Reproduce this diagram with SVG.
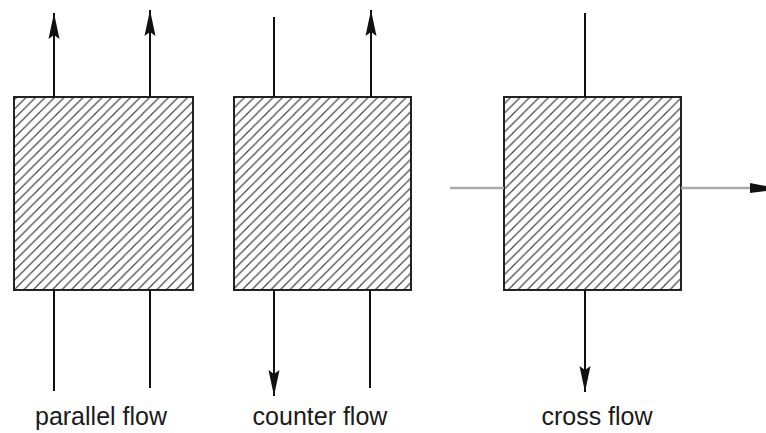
<svg xmlns="http://www.w3.org/2000/svg" width="766" height="433" viewBox="0 0 766 433">
<style>
.box{fill:url(#hatch);stroke:#222;stroke-width:2}
.flow{stroke:#111;stroke-width:2;fill:none}
.gray{stroke:#aaa;stroke-width:2.5;fill:none}
.lbl{font-family:"Liberation Sans",Arial,sans-serif;font-size:25px;fill:#1a1a1a;text-anchor:middle}
</style>
<defs>
<pattern id="hatch" patternUnits="userSpaceOnUse" width="9.5" height="9.5">
<rect width="9.5" height="9.5" fill="#fff"/>
<path d="M-1,1 L1,-1 M0,9.5 L9.5,0 M8.5,10.5 L10.5,8.5" stroke="#444" stroke-width="1.2"/>
</pattern>
<marker id="ah" markerUnits="userSpaceOnUse" markerWidth="30" markerHeight="14" viewBox="-28 -7 30 14" refX="0" refY="0" orient="auto">
<path d="M0,0 L-26,-5.5 L-22,0 L-26,5.5 Z" fill="#111"/>
</marker>
</defs>
<g id="parallel">
<rect class="box" x="14" y="97" width="179" height="193"/>
<text class="lbl" x="101" y="425">parallel flow</text>
</g>
<g id="counter">
<rect class="box" x="234" y="97" width="177" height="193"/>
<text class="lbl" x="320" y="425">counter flow</text>
</g>
<g id="cross">
<rect class="box" x="504" y="97" width="177" height="193"/>
<text class="lbl" x="597" y="425">cross flow</text>
</g>
<g id="connectors">
<line class="flow" x1="54" y1="97" x2="54" y2="13" marker-end="url(#ah)"/>
<line class="flow" x1="150" y1="97" x2="150" y2="10" marker-end="url(#ah)"/>
<line class="flow" x1="54" y1="391" x2="54" y2="290"/>
<line class="flow" x1="150" y1="388" x2="150" y2="290"/>
<line class="flow" x1="274" y1="17" x2="274" y2="97"/>
<line class="flow" x1="371" y1="97" x2="371" y2="10" marker-end="url(#ah)"/>
<line class="flow" x1="274" y1="290" x2="274" y2="396" marker-end="url(#ah)"/>
<line class="flow" x1="370" y1="388" x2="370" y2="290"/>
<line class="flow" x1="585" y1="13" x2="585" y2="97"/>
<line class="flow" x1="585" y1="290" x2="585" y2="392" marker-end="url(#ah)"/>
<line class="gray" x1="450" y1="188" x2="504" y2="188"/>
<line class="gray" x1="681" y1="188" x2="752" y2="188"/>
<path d="M750,183 L766,186 L766,191 L750,193 Z" fill="#111"/>
</g>
</svg>
